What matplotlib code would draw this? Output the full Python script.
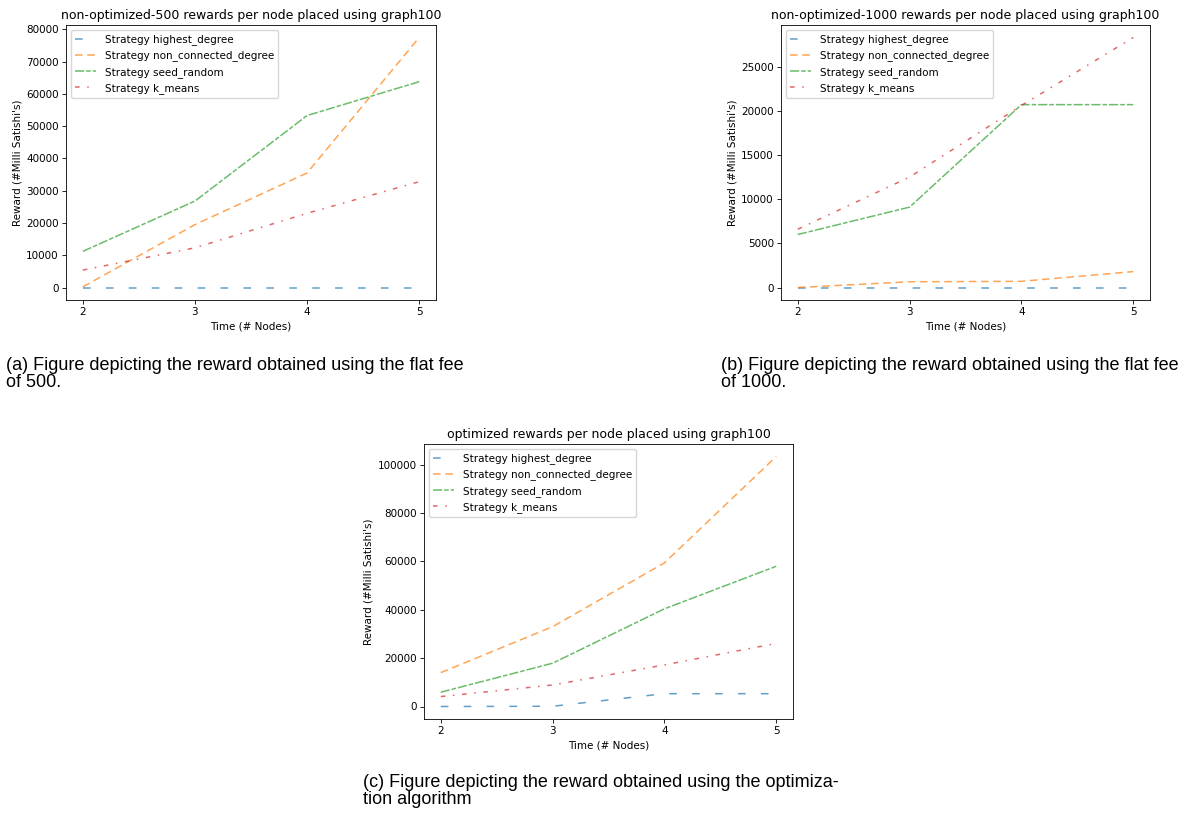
import matplotlib
matplotlib.use("Agg")
import matplotlib.pyplot as plt

# nodes placed
nodes = [2, 3, 4, 5]
strategies = ["highest_degree", "non_connected_degree", "seed_random", "k_means"]

# (a) non-optimized, flat fee 500
a_highest = [0, 0, 0, 0]
a_nonconn = [200, 19500, 35500, 77500]
a_seed = [11200, 26800, 53300, 63800]
a_kmeans = [5400, 12300, 23000, 32800]

# (b) non-optimized, flat fee 1000
b_highest = [0, 0, 0, 0]
b_nonconn = [0, 650, 700, 1800]
b_seed = [6000, 9100, 20700, 20700]
b_kmeans = [6600, 12500, 20600, 28300]

# (c) optimized
c_highest = [0, 100, 5300, 5300]
c_nonconn = [14000, 33000, 59400, 103400]
c_seed = [5900, 17900, 40400, 58000]
c_kmeans = [4100, 8900, 17200, 26100]

titles = ["non-optimized-500 rewards per node placed using graph100",
          "non-optimized-1000 rewards per node placed using graph100",
          "optimized rewards per node placed using graph100"]
captions = ["(a) Figure depicting the reward obtained using the flat fee\nof 500.",
            "(b) Figure depicting the reward obtained using the flat fee\nof 1000.",
            "(c) Figure depicting the reward obtained using the optimiza-\ntion algorithm"]

styles = [(0, (5, 10)), (0, (5, 3)), (0, (6, 1.3, 3, 1.3)), (0, (3, 5, 1, 5))]
colors = ["tab:blue", "tab:orange", "tab:green", "tab:red"]

W, H = 1203, 816
fig = plt.figure(figsize=(W / 100, H / 100), dpi=100)


def box(left, top, right, bottom):
    return [left / W, 1 - bottom / H, (right - left) / W, (bottom - top) / H]


panels = [
    (box(66, 25, 436, 300), [a_highest, a_nonconn, a_seed, a_kmeans], (6, 374)),
    (box(781, 25, 1150, 300), [b_highest, b_nonconn, b_seed, b_kmeans], (721, 374)),
    (box(424, 444, 793, 719), [c_highest, c_nonconn, c_seed, c_kmeans], (363, 791)),
]

for i, (pos, series, cap) in enumerate(panels):
    ax = fig.add_axes(pos)
    for name, vals, ls, col in zip(strategies, series, styles, colors):
        ax.plot(nodes, vals, linestyle=ls, color=col, alpha=0.7, lw=1.1,
                label="Strategy " + name)
    ax.set_title(titles[i], fontsize=9, pad=4)
    ax.set_xlabel("Time (# Nodes)", fontsize=7.5, labelpad=3)
    ax.set_ylabel("Reward (#Milli Satishi's)", fontsize=7.5, labelpad=3)
    ax.set_xticks(nodes)
    ax.tick_params(labelsize=7.5, width=0.6, length=2.6, pad=2.5)
    for s in ax.spines.values():
        s.set_linewidth(0.6)
    ax.legend(loc="upper left", fontsize=7.5, handlelength=2.0,
              borderpad=0.4, labelspacing=0.5, handletextpad=0.8)
    fig.text(cap[0] / W, 1 - cap[1] / H, captions[i], fontsize=13,
             family="Liberation Sans", va="center", ha="left", linespacing=0.95)

fig.savefig("out.png", dpi=100)
